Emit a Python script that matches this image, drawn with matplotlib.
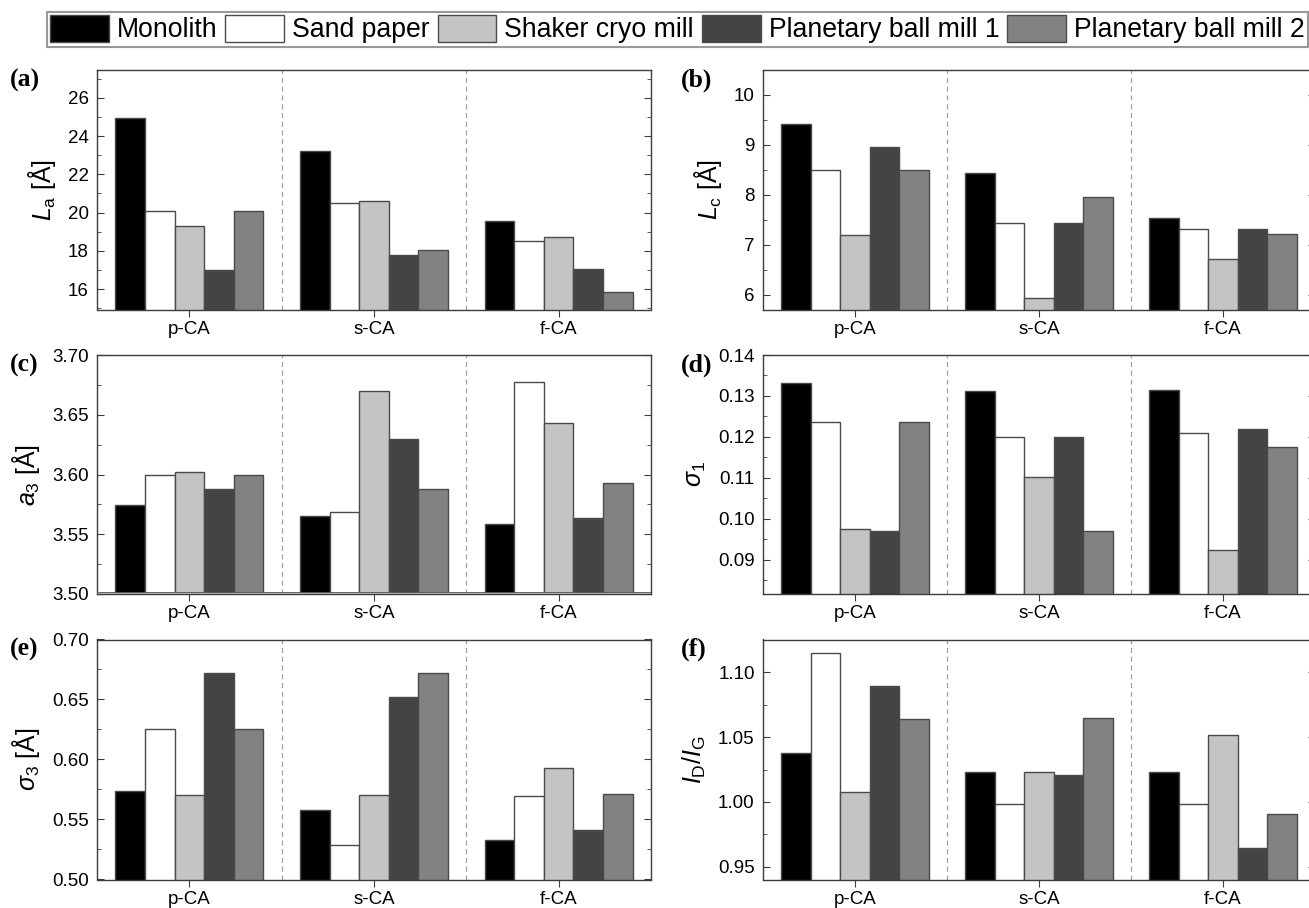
import matplotlib
matplotlib.use("Agg")
import matplotlib.pyplot as plt
from matplotlib.patches import Patch
from matplotlib.ticker import MultipleLocator, FormatStrFormatter

plt.rcParams['font.family'] = ['Liberation Sans', 'DejaVu Sans']
plt.rcParams['mathtext.fontset'] = 'custom'
plt.rcParams['mathtext.rm'] = 'Liberation Sans'
plt.rcParams['mathtext.it'] = 'Liberation Sans:italic'
plt.rcParams['mathtext.bf'] = 'Liberation Sans:bold'

# ---- data -------------------------------------------------------------
categories = ["p-CA", "s-CA", "f-CA"]
series = ["Monolith", "Sand paper", "Shaker cryo mill",
          "Planetary ball mill 1", "Planetary ball mill 2"]
colors = ["#000000", "#ffffff", "#c4c4c4", "#444444", "#828282"]

# rows follow `series`, columns follow `categories`
la = [[24.92, 23.24, 19.55],
      [20.06, 20.51, 18.52],
      [19.32, 20.63, 18.73],
      [17.00, 17.77, 17.03],
      [20.06, 18.03, 15.88]]
lc = [[9.42, 8.44, 7.54],
      [8.50, 7.44, 7.32],
      [7.19, 5.94, 6.72],
      [8.95, 7.44, 7.32],
      [8.50, 7.95, 7.22]]
a3 = [[3.5745, 3.5656, 3.5583],
      [3.6000, 3.5683, 3.6770],
      [3.6020, 3.6700, 3.6430],
      [3.5880, 3.6300, 3.5633],
      [3.6000, 3.5880, 3.5930]]
sigma1 = [[0.1332, 0.1311, 0.1315],
          [0.1237, 0.1201, 0.1209],
          [0.0976, 0.1103, 0.0924],
          [0.0971, 0.1199, 0.1219],
          [0.1237, 0.0971, 0.1175]]
sigma3 = [[0.5739, 0.5581, 0.5333],
          [0.6256, 0.5289, 0.5697],
          [0.5703, 0.5703, 0.5925],
          [0.6719, 0.6519, 0.5411],
          [0.6256, 0.6719, 0.5711]]
id_ig = [[1.0380, 1.0228, 1.0228],
         [1.1152, 0.9981, 0.9980],
         [1.0079, 1.0233, 1.0516],
         [1.0895, 1.0205, 0.9647],
         [1.0640, 1.0645, 0.9907]]

# ---- figure -----------------------------------------------------------
W, H = 1309, 908
fig = plt.figure(figsize=(W / 100, H / 100), dpi=100)


def rect(left, right, top, bottom):
    return [left / W, 1 - bottom / H, (right - left) / W, (bottom - top) / H]


cols = [(97, 651), (763, 1315)]
rows = [(70, 309.5), (355, 594), (639.5, 879.5)]

panels = [
    ("(a)", la, r"$L_\mathrm{a}$ [Å]", (14.94, 27.45), 2, 1, "%d"),
    ("(b)", lc, r"$L_\mathrm{c}$ [Å]", (5.7, 10.5), 1, 0.5, "%d"),
    ("(c)", a3, r"$a_3$ [Å]", (3.50, 3.70), 0.05, 0.025, "%.2f"),
    ("(d)", sigma1, r"$\sigma_1$", (0.0817, 0.14), 0.01, 0.005, "%.2f"),
    ("(e)", sigma3, r"$\sigma_3$ [Å]", (0.50, 0.70), 0.05, 0.025, "%.2f"),
    ("(f)", id_ig, r"$I_\mathrm{D}/I_\mathrm{G}$", (0.940, 1.1255), 0.05, 0.025, "%.2f"),
]

bar_w = 0.16
edge = "#4a4a4a"
spine_c = "#3c3c3c"

for k, (tag, vals, ylab, ylim, major, minor, fmt) in enumerate(panels):
    r, c = divmod(k, 2)
    left, right = cols[c]
    top, bottom = rows[r]
    ax = fig.add_axes(rect(left, right, top, bottom))

    for j, (name, col) in enumerate(zip(series, colors)):
        xs = [i + (j - 2) * bar_w for i in range(len(categories))]
        ax.bar(xs, vals[j], width=bar_w, bottom=0, color=col,
               edgecolor=edge, linewidth=1.0, zorder=2)

    for xv in (0.5, 1.5):
        ax.axvline(xv, color="#a0a0a0", lw=0.9, ls=(0, (4, 3)), zorder=1)

    if tag == "(c)":
        ax.axhspan(3.50, 3.502, facecolor="#a8a8a8", edgecolor="#555555",
                   lw=0.6, zorder=3)

    ax.set_xlim(-0.5, 2.5)
    ax.set_ylim(*ylim)
    ax.set_xticks(range(len(categories)))
    ax.set_xticklabels(categories)
    ax.yaxis.set_major_locator(MultipleLocator(major))
    ax.yaxis.set_minor_locator(MultipleLocator(minor))
    ax.yaxis.set_major_formatter(FormatStrFormatter(fmt))

    ax.tick_params(axis="y", which="both", direction="in", left=True,
                   right=True, labelsize=13.5, pad=6, color=spine_c)
    ax.tick_params(axis="y", which="major", length=5)
    ax.tick_params(axis="y", which="minor", length=3)
    ax.tick_params(axis="x", which="major", direction="out", length=5,
                   top=False, labelsize=13.5, pad=3, color=spine_c)
    ax.tick_params(axis="x", which="minor", bottom=False, top=False)

    for sp in ax.spines.values():
        sp.set_color(spine_c)
        sp.set_linewidth(1.0)

    ax.set_ylabel(ylab, fontsize=18, labelpad=7)

    tag_x = 10 if c == 0 else 681
    tag_y = top + 10
    fig.text(tag_x / W, 1 - tag_y / H, tag, fontsize=18.5, fontweight="bold",
             family="Liberation Serif", ha="left", va="center")

handles = [Patch(facecolor=col, edgecolor=edge, linewidth=1.0)
           for col in colors]
leg = fig.legend(handles, series, loc="upper left",
                 bbox_to_anchor=(47 / W, 1 - 12 / H), ncol=5,
                 fontsize=19.2, handlelength=2.2, handleheight=1.15,
                 handletextpad=0.3, columnspacing=0.3, borderpad=0.12,
                 borderaxespad=0, frameon=True, fancybox=False)
leg.get_frame().set_edgecolor("#7f7f7f")
leg.get_frame().set_linewidth(1.5)

fig.savefig("out.png", dpi=100)
